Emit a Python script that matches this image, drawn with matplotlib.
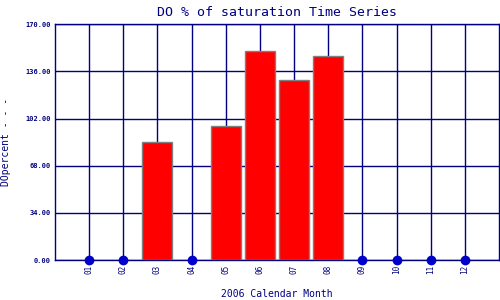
import matplotlib
matplotlib.use("Agg")
import matplotlib.pyplot as plt

months = ["01", "02", "03", "04", "05", "06", "07", "08", "09", "10", "11", "12"]
do_pct = [0, 0, 85.0, 0, 96.5, 150.5, 129.7, 147.0, 0, 0, 0, 0]
yticks = [0, 34, 68, 102, 136, 170]

navy = "#000080"
mono = "DejaVu Sans Mono"

fig = plt.figure(figsize=(5, 3), dpi=100)
ax = fig.add_axes([0.11, 0.133, 0.888, 0.786])

x = list(range(1, 13))
bx = [xi for xi, v in zip(x, do_pct) if v > 0]
bv = [v for v in do_pct if v > 0]
dx = [xi for xi, v in zip(x, do_pct) if v == 0]
dv = [v for v in do_pct if v == 0]

ax.set_axisbelow(True)
ax.grid(True, color=navy, linewidth=1.0)
ax.bar(bx, bv, width=0.88, color="#ff0000", edgecolor="#808080", linewidth=1.0, zorder=3)
ax.plot(dx, dv, "o", color="#0000cc", markersize=6, clip_on=False, zorder=4)

ax.set_xlim(0, 13)
ax.set_ylim(0, 170)
ax.set_xticks(x)
ax.set_xticklabels(months, rotation=90, fontsize=5.5, family=mono, color=navy)
ax.set_yticks(yticks)
ax.set_yticklabels(["%.2f" % t for t in yticks], fontsize=5, family=mono,
                   color=navy, fontweight="bold")
ax.tick_params(length=0, pad=3)
for s in ax.spines.values():
    s.set_color(navy)
    s.set_linewidth(1.0)

ax.set_title("DO % of saturation Time Series", fontsize=9.5, family=mono, color=navy, pad=6)
ax.set_xlabel("2006 Calendar Month", fontsize=7, family=mono, color=navy, labelpad=11)
ax.set_ylabel("DOpercent - - -", fontsize=7, family=mono, color=navy, labelpad=10)

fig.savefig("out.png", dpi=100)
